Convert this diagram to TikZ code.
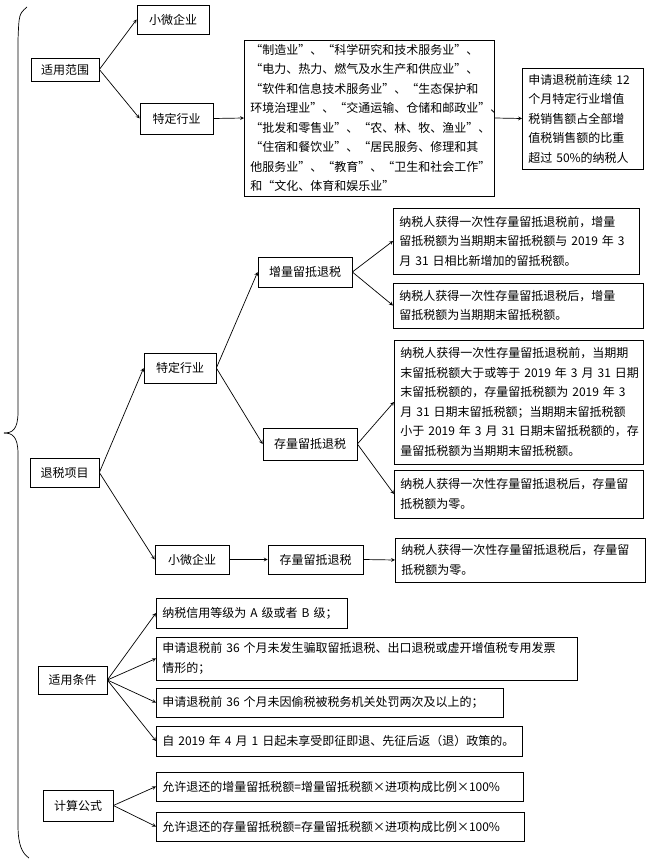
\documentclass[tikz,border=0pt]{standalone}
\usepackage{fontspec}
\setmainfont{Noto Sans CJK SC}
\begin{document}
\begin{tikzpicture}[x=1pt, y=-1pt, line width=0.7pt,
        box/.style={rectangle, draw, inner sep=0pt, font=\fontsize{12}{19.5}\selectfont},
        textbox/.style={rectangle, draw, anchor=west, align=left, inner xsep=6pt, inner ysep=0pt, font=\fontsize{12}{19.5}\selectfont}]
        \useasboundingbox (0, 0) rectangle (651, 861);
        \draw (27, 7) .. controls (19, 14) .. (18, 40) -- (18, 412) .. controls (18, 430) and (12, 433) .. (4, 433);
        \draw (4, 433) .. controls (12, 433) and (18, 436) .. (18, 454) -- (18, 825) .. controls (18, 845) and (22, 853) .. (29, 858);

        \node[box, minimum width=68pt, minimum height=23pt] (scope) at (65, 69.5) {适用范围};
        \node[box, minimum width=72pt, minimum height=29pt] (scopeSmall) at (173, 19.5) {小微企业};
        \node[box, minimum width=73pt, minimum height=31pt] (scopeSpecial) at (176.5, 118.5) {特定行业};
        \node[textbox, text width=238pt, minimum height=156pt] (industries) at (244, 118) {“制造业”、“科学研究和技术服务业”、\\“电力、热力、燃气及水生产和供应业”、\\“软件和信息技术服务业”、“生态保护和\\环境治理业”、“交通运输、仓储和邮政业”、\\“批发和零售业”、“农、林、牧、渔业”、\\“住宿和餐饮业”、“居民服务、修理和其\\他服务业”、“教育”、“卫生和社会工作”\\和“文化、体育和娱乐业”};
        \node[textbox, text width=109pt, minimum height=101pt] (ratio) at (522, 118.5) {申请退税前连续~12\\个月特定行业增值\\税销售额占全部增\\值税销售额的比重\\超过~50\%的纳税人};
        \draw[-stealth] (scope.east) -- (scopeSmall.west);
        \draw[-stealth] (scope.east) -- (scopeSpecial.west);
        \draw[-stealth] (scopeSpecial.east) -- (industries.west);
        \draw[-stealth] (industries.east) -- (ratio.west);

        \node[box, minimum width=69pt, minimum height=29pt] (refund) at (64.5, 472.5) {退税项目};
        \node[box, minimum width=72pt, minimum height=30pt] (refundSpecial) at (180, 368) {特定行业};
        \node[box, minimum width=94pt, minimum height=30pt] (incr) at (305, 272) {增量留抵退税};
        \node[textbox, text width=234pt, minimum height=66pt] (incrBefore) at (393, 241) {纳税人获得一次性存量留抵退税前，增量\\留抵税额为当期期末留抵税额与~2019~年~3\\月~31~日相比新增加的留抵税额。};
        \node[textbox, text width=238pt, minimum height=45pt] (incrAfter) at (393, 305.5) {纳税人获得一次性存量留抵退税后，增量\\留抵税额为当期期末留抵税额。};
        \node[box, minimum width=94pt, minimum height=32pt] (stock) at (310, 444) {存量留抵退税};
        \node[textbox, text width=237pt, minimum height=124pt] (stockBefore) at (394, 402) {纳税人获得一次性存量留抵退税前，当期期\\末留抵税额大于或等于~2019~年~3~月~31~日期\\末留抵税额的，存量留抵税额为~2019~年~3\\月~31~日期末留抵税额；当期期末留抵税额\\小于~2019~年~3~月~31~日期末留抵税额的，存\\量留抵税额为当期期末留抵税额。};
        \node[textbox, text width=237pt, minimum height=48pt] (stockAfter) at (394, 494) {纳税人获得一次性存量留抵退税后，存量留\\抵税额为零。};
        \node[box, minimum width=74pt, minimum height=29pt] (refundSmall) at (192, 559.5) {小微企业};
        \node[box, minimum width=95pt, minimum height=29pt] (smallStock) at (315.5, 559.5) {存量留抵退税};
        \node[textbox, text width=238pt, minimum height=44pt] (smallAfter) at (395, 560) {纳税人获得一次性存量留抵退税后，存量留\\抵税额为零。};
        \draw[-stealth] (refund.east) -- (refundSpecial.west);
        \draw[-stealth] (refund.east) -- (refundSmall.west);
        \draw[-stealth] (refundSpecial.east) -- (incr.west);
        \draw[-stealth] (refundSpecial.east) -- (stock.west);
        \draw[-stealth] (incr.east) -- (incrBefore.west);
        \draw[-stealth] (incr.east) -- (incrAfter.west);
        \draw[-stealth] (stock.east) -- (stockBefore.west);
        \draw[-stealth] (stock.east) -- (stockAfter.west);
        \draw[-stealth] (refundSmall.east) -- (smallStock.west);
        \draw[-stealth] (smallStock.east) -- (smallAfter.west);

        \node[box, minimum width=69pt, minimum height=28pt] (cond) at (72.5, 680) {适用条件};
        \node[textbox, text width=179pt, minimum height=30pt] (condA) at (156, 613) {纳税信用等级为~A~级或者~B~级；};
        \node[textbox, text width=409pt, minimum height=43pt] (condB) at (156, 658.5) {申请退税前~36~个月未发生骗取留抵退税、出口退税或虚开增值税专用发票\\情形的；};
        \node[textbox, text width=335pt, minimum height=29pt] (condC) at (156, 702.5) {申请退税前~36~个月未因偷税被税务机关处罚两次及以上的；};
        \node[textbox, text width=354pt, minimum height=30pt] (condD) at (156, 741) {自~2019~年~4~月~1~日起未享受即征即退、先征后返（退）政策的。};
        \draw[-stealth] (cond.east) -- (condA.west);
        \draw[-stealth] (cond.east) -- (condB.west);
        \draw[-stealth] (cond.east) -- (condC.west);
        \draw[-stealth] (cond.east) -- (condD.west);

        \node[box, minimum width=70pt, minimum height=31pt] (calc) at (78, 805.5) {计算公式};
        \node[textbox, text width=355pt, minimum height=29pt] (calcA) at (156, 786.5) {允许退还的增量留抵税额=增量留抵税额×进项构成比例×100\%};
        \node[textbox, text width=356pt, minimum height=29pt] (calcB) at (156, 826.5) {允许退还的存量留抵税额=存量留抵税额×进项构成比例×100\%};
        \draw[-stealth] (calc.east) -- (calcA.west);
        \draw[-stealth] (calc.east) -- (calcB.west);
    \end{tikzpicture}
\end{document}
